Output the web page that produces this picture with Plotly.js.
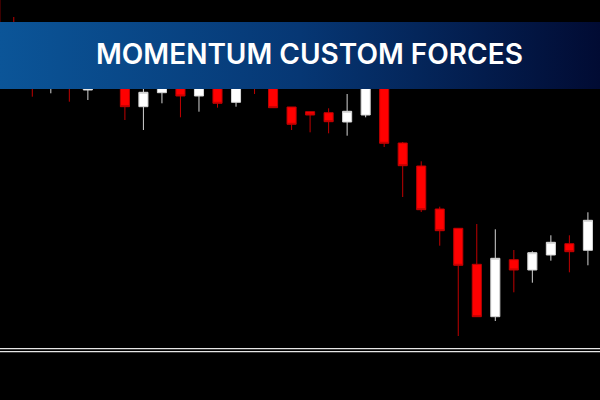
<!DOCTYPE html>
<html>
<head>
<meta charset="utf-8">
<script src="https://cdn.plot.ly/plotly-3.0.1.min.js"></script>
<style>
  html, body { margin: 0; padding: 0; background: #000; }
  #chart { width: 600px; height: 400px; }
</style>
</head>
<body>
<div id="chart"></div>
<script>
// Bar index for each candle
const bars = [0,1,2,3,4,5,6,7,8,9,10,11,12,13,14,15,16,17,18,19,20,21,22,23,24,25,26,27,28,29,30,31,32];

// OHLC series
const openP  = [1.20060,1.19700,1.19500,1.19200,1.19400,1.19100,1.19280,1.19220,1.18933,1.19073,1.19240,1.19040,1.19200,1.18977,1.19200,1.19140,1.18930,1.18883,1.18873,1.18780,1.18850,1.19160,1.18570,1.18340,1.17910,1.17717,1.17357,1.16833,1.17403,1.17300,1.17450,1.17563,1.17497];
const highP  = [1.20120,1.19830,1.19650,1.19480,1.19450,1.19340,1.19320,1.19260,1.19160,1.19300,1.19280,1.19260,1.19230,1.19220,1.19250,1.19180,1.18930,1.18883,1.18917,1.19060,1.19220,1.19200,1.18580,1.18387,1.17933,1.17717,1.17760,1.17707,1.17500,1.17487,1.17647,1.17647,1.17877];
const lowP   = [1.19520,1.19380,1.19033,1.19067,1.18983,1.19000,1.19140,1.18800,1.18700,1.18967,1.18827,1.18883,1.18923,1.18933,1.19060,1.18923,1.18700,1.18677,1.18667,1.18643,1.18827,1.18530,1.18030,1.17880,1.17543,1.16640,1.16830,1.16790,1.17077,1.17173,1.17393,1.17277,1.17347];
const closeP = [1.19600,1.19450,1.19300,1.19400,1.19160,1.19280,1.19200,1.18933,1.19077,1.19240,1.19040,1.19200,1.18967,1.19160,1.19120,1.18923,1.18757,1.18850,1.18783,1.18887,1.19160,1.18567,1.18343,1.17903,1.17693,1.17347,1.16833,1.17417,1.17300,1.17473,1.17577,1.17483,1.17797];

const titleText = 'MOMENTUM CUSTOM FORCES';

const candles = {
  type: 'candlestick',
  x: bars,
  open: openP,
  high: highP,
  low: lowP,
  close: closeP,
  increasing: { line: { color: '#d4d4d4', width: 1 }, fillcolor: '#ffffff' },
  decreasing: { line: { color: '#c00000', width: 1 }, fillcolor: '#ff0000' },
  whiskerwidth: 0,
  hoverinfo: 'skip'
};

// Header band drawn on an overlay axis pair spanning the whole canvas
const band = {
  type: 'scatter',
  x: [0, 1, 1, 0, 0],
  y: [0.945, 0.945, 0.7775, 0.7775, 0.945],
  xaxis: 'x2',
  yaxis: 'y2',
  mode: 'lines',
  line: { width: 0 },
  fill: 'toself',
  fillgradient: {
    type: 'horizontal',
    colorscale: [[0, '#0b5598'], [0.5, '#063774'], [1, '#010b33']]
  },
  hoverinfo: 'skip'
};

const layout = {
  width: 600,
  height: 400,
  margin: { l: 0, r: 0, t: 0, b: 0, pad: 0 },
  paper_bgcolor: '#000000',
  plot_bgcolor: '#000000',
  showlegend: false,
  hovermode: false,
  boxgap: 0.3,
  xaxis: {
    range: [0.256, 32.653],
    visible: false,
    fixedrange: true,
    rangeslider: { visible: false }
  },
  yaxis: {
    range: [1.16, 1.20],
    visible: false,
    fixedrange: true
  },
  xaxis2: { overlaying: 'x', range: [0, 1], visible: false, fixedrange: true },
  yaxis2: { overlaying: 'y', range: [0, 1], visible: false, fixedrange: true },
  shapes: [
    { type: 'line', xref: 'paper', yref: 'paper', x0: 0, x1: 1, y0: 0.12825, y1: 0.12825,
      line: { color: '#e6e6e6', width: 1.3 } },
    { type: 'line', xref: 'paper', yref: 'paper', x0: 0, x1: 1, y0: 0.12075, y1: 0.12075,
      line: { color: '#e6e6e6', width: 1.3 } }
  ],
  annotations: [{
    text: titleText,
    xref: 'paper', yref: 'paper',
    x: 0.515, y: 0.8655,
    xanchor: 'center', yanchor: 'middle',
    showarrow: false,
    font: { family: 'Inter, "Open Sans", sans-serif', size: 28, weight: 600, color: '#ffffff' }
  }]
};

Plotly.newPlot('chart', [candles, band], layout, { displayModeBar: false, staticPlot: true });
</script>
</body>
</html>
